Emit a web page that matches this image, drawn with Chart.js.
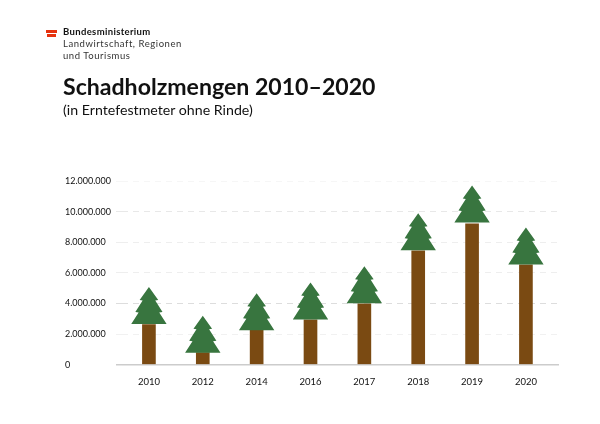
<!DOCTYPE html>
<html lang="de">
<head>
    <meta charset="UTF-8">
    <title>Schadholzmengen 2010–2020</title>
    <script src="https://cdn.jsdelivr.net/npm/chart.js"></script>
    <style>
        body { margin: 0; background: #fff; font-family: Lato, sans-serif; color: #111; }
        #wrap { position: relative; width: 600px; height: 424px; overflow: hidden; }
        canvas { position: absolute; left: 0; top: 0; }
        .txt { position: absolute; white-space: nowrap; }
        .flag { position: absolute; left: 46px; }
    </style>
</head>
<body>
    <div id="wrap">
        <canvas id="chart" width="600" height="424"></canvas>
        <div class="flag" style="top:30px;width:11px;height:3px;background:#e6320f;"></div>
        <div class="flag" style="top:34px;width:9px;height:3px;margin-left:1px;background:#e6320f;"></div>
        <div class="txt" style="left:63px;top:26px;font-size:9.5px;font-weight:700;letter-spacing:.35px;">Bundesministerium</div>
        <div class="txt" style="left:63px;top:38px;font-size:9.5px;letter-spacing:.55px;color:#333;">Landwirtschaft, Regionen</div>
        <div class="txt" style="left:63px;top:50px;font-size:9.5px;letter-spacing:.55px;color:#333;">und Tourismus</div>
        <div class="txt" style="left:63px;top:72px;font-size:23.1px;font-weight:700;">Schadholzmengen 2010–2020</div>
        <div class="txt" style="left:63px;top:101px;font-size:14.2px;">(in Erntefestmeter ohne Rinde)</div>
    </div>
    <script>
        const years = ["2010", "2012", "2014", "2016", "2017", "2018", "2019", "2020"];
        const treeTops = [5070000, 3200000, 4670000, 5360000, 6430000, 9900000, 11700000, 8960000];
        const trunkTops = [2620000, 790000, 2260000, 2930000, 3980000, 7440000, 9200000, 6520000];
        const gridColors = { 0: "#cccccc", 2000000: "#f1f1f1", 4000000: "#dddddd", 6000000: "#eeeeee", 8000000: "#eeeeee", 10000000: "#e8e8e8", 12000000: "#f6f6f6" };

        // crown outline, measured from the tip downwards
        const treeShape = [[0, 0], [9.3, 13], [6.3, 13.5], [13.6, 25], [10.3, 25.5], [17.7, 37]];

        const treePlugin = {
            id: "trees",
            afterDatasetsDraw(chart) {
                const ctx = chart.ctx;
                chart.getDatasetMeta(1).data.forEach(pt => {
                    ctx.beginPath();
                    treeShape.forEach(p => ctx.lineTo(pt.x + p[0], pt.y + p[1]));
                    treeShape.slice().reverse().forEach(p => ctx.lineTo(pt.x - p[0], pt.y + p[1]));
                    ctx.closePath();
                    ctx.fillStyle = "#38753f";
                    ctx.fill();
                });
            }
        };

        const dash = c => c.tick.value === 0 ? [] : [6, 5];
        const onIndex = values => values.map((v, i) => ({ x: i, y: v }));

        new Chart(document.getElementById("chart"), {
            type: "bar",
            data: {
                datasets: [
                    { data: onIndex(trunkTops), backgroundColor: "#7a4a12", barThickness: 13 },
                    { type: "line", data: onIndex(treeTops), showLine: false, pointRadius: 0 }
                ]
            },
            plugins: [treePlugin],
            options: {
                responsive: false,
                animation: false,
                layout: { padding: { left: 65, right: 41, top: 181, bottom: 32 } },
                plugins: { legend: { display: false }, tooltip: { enabled: false } },
                scales: {
                    x: {
                        // linear so the grid can run on past the last tree
                        type: "linear",
                        offset: false,
                        min: -0.5,
                        max: 7.614,
                        afterBuildTicks: scale => { scale.ticks = years.map((y, i) => ({ value: i })); },
                        border: { display: false },
                        grid: { display: false },
                        ticks: {
                            color: "#111",
                            font: { family: "Lato", size: 9.5 },
                            padding: 4,
                            maxRotation: 0,
                            callback: v => years[v]
                        }
                    },
                    y: {
                        min: 0,
                        max: 12000000,
                        afterFit: scale => { scale.width = 57; },
                        border: { display: false, dash: dash },
                        grid: {
                            tickLength: 6,
                            color: c => gridColors[c.tick.value],
                            tickColor: c => gridColors[c.tick.value],
                            lineWidth: c => c.tick.value === 0 ? 1.5 : 1,
                            tickWidth: c => c.tick.value === 0 ? 1.5 : 1,
                            tickBorderDash: dash
                        },
                        ticks: {
                            stepSize: 2000000,
                            crossAlign: "far",
                            color: "#111",
                            font: { family: "Lato", size: 9 },
                            callback: v => v.toLocaleString("de-DE")
                        }
                    }
                }
            }
        });
    </script>
</body>
</html>
